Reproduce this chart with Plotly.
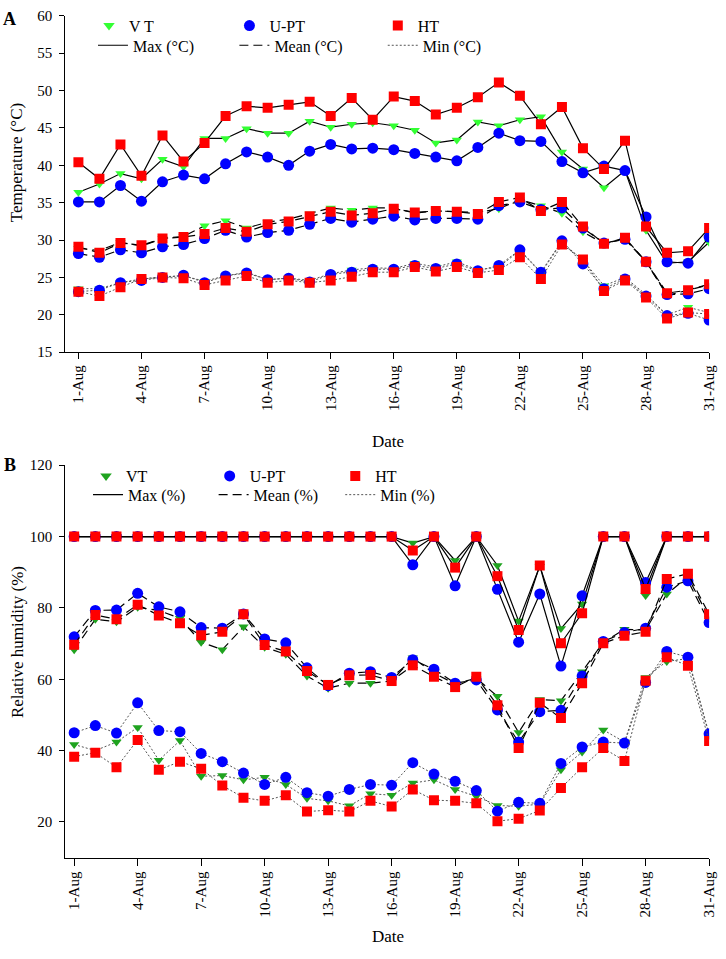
import plotly.graph_objects as go

days = list(range(1, 32))
tick_days = list(range(1, 32, 3))
tick_text = [f"{d}-Aug" for d in tick_days]

# Temperature (°C)
vt_tmax = [36.4,37.5,38.9,38.2,40.8,39.8,43.6,43.6,44.9,44.3,44.3,45.9,45.1,45.5,45.7,45.3,44.7,43.0,43.4,45.8,45.3,46.1,46.5,41.8,39.5,37.0,39.3,31.3,26.9,27.1,29.7]
upt_tmax = [35.1,35.1,37.3,35.2,37.8,38.7,38.2,40.2,41.8,41.1,40.0,41.9,42.8,42.2,42.3,42.1,41.6,41.1,40.6,42.4,44.3,43.3,43.2,40.5,39.0,39.9,39.3,33.1,27.1,26.9,30.4]
ht_tmax = [40.4,38.2,42.8,38.6,44.0,40.5,43.0,46.6,47.9,47.7,48.1,48.5,46.6,49.0,46.1,49.2,48.6,46.8,47.7,49.1,51.1,49.3,45.5,47.8,42.3,39.5,43.3,31.8,28.3,28.5,31.6]
vt_tmean = [28.9,28.6,29.7,29.2,30.2,30.5,31.9,32.6,31.6,32.4,32.8,33.5,34.3,34.0,34.3,34.3,33.6,33.9,33.8,33.7,34.2,35.4,34.6,33.6,31.1,29.5,30.2,27.1,22.6,23.3,24.0]
upt_tmean = [28.2,27.7,28.7,28.3,29.1,29.4,30.2,31.3,30.4,31.0,31.3,32.1,32.9,32.4,32.8,33.2,32.7,32.9,32.9,32.8,34.6,35.1,34.1,34.3,31.6,29.6,30.1,27.1,22.7,22.8,23.5]
ht_tmean = [29.1,28.3,29.6,29.3,30.2,30.4,30.8,31.6,31.1,32.1,32.5,33.2,33.8,33.3,33.6,34.2,33.7,33.9,33.8,33.5,35.1,35.7,33.9,35.1,31.8,29.5,30.3,27.1,22.9,23.3,24.1]
vt_tmin = [23.5,23.5,24.3,24.8,25.1,25.2,24.5,25.2,25.7,24.7,24.9,24.6,25.5,26.0,26.3,26.2,26.9,26.4,27.1,26.0,26.4,28.6,25.6,29.7,27.3,23.9,25.0,22.7,20.0,21.0,20.3]
upt_tmin = [23.1,23.3,24.3,24.6,25.0,25.3,24.3,25.2,25.6,24.7,24.9,24.4,25.4,25.7,26.1,26.1,26.6,26.2,26.8,25.9,26.6,28.7,25.7,29.9,26.8,23.5,24.8,22.5,19.9,20.2,19.3]
ht_tmin = [23.1,22.5,23.7,24.8,25.0,24.9,24.0,24.6,25.2,24.3,24.6,24.3,24.6,25.1,25.7,25.7,26.4,25.8,26.4,25.6,26.0,27.7,24.8,29.4,27.4,23.2,24.6,22.3,19.5,20.3,20.1]

# Relative humidity (%)
vt_hmax = [100]*16 + [98.2,100,93.3,100,91.9,76.3,91.7,74.2,81.1,100,100,83.5,100,100,100]
upt_hmax = [100]*16 + [92.1,100,86.2,100,85.2,70.4,83.9,63.7,83.4,100,100,87.1,100,100,100]
ht_hmax = [100]*16 + [96.1,100,91.3,100,88.9,73.8,91.9,70.1,78.5,100,100,85.3,100,100,100]
vt_hmean = [68.3,76.8,76.1,80.2,79.3,77.1,70.4,68.3,74.7,69.0,67.0,60.9,57.5,58.9,58.9,59.5,66.0,61.7,58.7,60.3,55.2,45.1,54.3,54.0,62.1,70.4,74.0,73.8,83.9,88.7,77.2]
upt_hmean = [71.9,79.3,79.4,84.1,80.3,78.9,74.5,74.3,78.3,71.3,70.2,63.2,58.2,61.7,62.1,60.5,65.5,62.8,58.9,59.8,51.4,42.4,50.9,51.3,60.9,70.6,73.1,74.3,85.8,87.6,75.9]
ht_hmean = [69.7,78.0,76.8,80.9,77.9,75.7,72.3,73.3,78.2,69.6,67.8,62.3,58.4,61.1,61.2,59.5,63.9,60.7,57.8,60.7,52.7,40.7,53.4,49.1,58.9,70.1,72.2,73.3,88.1,89.6,78.2]
vt_hmin = [41.7,40.0,42.4,46.5,37.3,42.8,32.8,33.0,31.8,32.5,30.5,26.6,25.9,24.5,27.9,27.5,30.9,31.8,29.1,27.2,24.6,24.4,25.0,34.6,39.6,45.8,42.4,60.5,65.0,65.8,44.2]
upt_hmin = [45.0,47.0,44.9,53.4,45.6,45.3,39.2,36.9,33.7,30.5,32.5,28.2,27.2,29.1,30.5,30.3,36.6,33.4,31.4,28.8,23.0,25.5,25.2,36.4,41.0,42.4,42.1,59.1,67.8,66.2,44.7]
ht_hmin = [38.3,39.4,35.3,43.0,34.6,36.9,34.9,30.2,26.8,25.9,27.5,22.9,23.3,22.9,25.9,24.3,29.1,26.1,25.9,25.2,20.2,20.9,23.2,29.5,35.3,40.7,37.1,59.6,66.2,63.8,42.7]

FONT = "Liberation Serif"
RED = "#ff0000"
BLUE = "#0000ff"
GREEN_A = "#33ff33"
GREEN_B = "#1fa31f"

MEAN_DASH = "9px,5px"
MIN_DASH = "2px,2px"

W, H = 726, 959
def px(x):
    return x / W
def py(y):
    return 1 - y / H

fig = go.Figure()

def add_group(xa, ya, series, dash, width, lcolor, green):
    styles = [
        (green, "triangle-down", 9),
        (BLUE, "circle", 11),
        (RED, "square", 10),
    ]
    for ys, (col, sym, sz) in zip(series, styles):
        fig.add_trace(go.Scatter(
            x=days, y=ys, xaxis=xa, yaxis=ya, mode="lines+markers",
            line=dict(color=lcolor, width=width, dash=dash),
            marker=dict(color=col, symbol=sym, size=sz, line=dict(width=0)),
            showlegend=False, hoverinfo="skip"))

# Panel A
add_group("x", "y", [vt_tmax, upt_tmax, ht_tmax], "solid", 1.2, "black", GREEN_A)
add_group("x", "y", [vt_tmean, upt_tmean, ht_tmean], MEAN_DASH, 1.2, "black", GREEN_A)
add_group("x", "y", [vt_tmin, upt_tmin, ht_tmin], MIN_DASH, 1.0, "#555555", GREEN_A)
# Panel B
add_group("x2", "y2", [vt_hmax, upt_hmax, ht_hmax], "solid", 1.2, "black", GREEN_B)
add_group("x2", "y2", [vt_hmean, upt_hmean, ht_hmean], MEAN_DASH, 1.2, "black", GREEN_B)
add_group("x2", "y2", [vt_hmin, upt_hmin, ht_hmin], MIN_DASH, 1.0, "#555555", GREEN_B)

# Legend entries: one legend box per entry, positioned by text start (px) and row centre (px)
legend_layout = {}
legend_count = [0]

def new_legend(text_x, row_y):
    legend_count[0] += 1
    n = legend_count[0]
    key = "legend" if n == 1 else f"legend{n}"
    legend_layout[key] = dict(
        x=px(text_x - 40), y=py(row_y), xanchor="left", yanchor="middle",
        orientation="h", bgcolor="rgba(0,0,0,0)", borderwidth=0,
        font=dict(family=FONT, size=16, color="black"), itemwidth=30)
    return key

def marker_entry(name, col, sym, sz, text_x, row_y):
    fig.add_trace(go.Scatter(x=[None], y=[None], mode="markers", name=name,
                             marker=dict(color=col, symbol=sym, size=sz, line=dict(width=0)),
                             legend=new_legend(text_x, row_y), showlegend=True))

def line_entry(name, dash, text_x, row_y, col="black", width=1.2):
    fig.add_trace(go.Scatter(x=[None], y=[None], mode="lines", name=name,
                             line=dict(color=col, dash=dash, width=width),
                             legend=new_legend(text_x, row_y), showlegend=True))

marker_entry("V T", GREEN_A, "triangle-down", 10, 130, 18)
marker_entry("U-PT", BLUE, "circle", 11, 272, 18)
marker_entry("HT", RED, "square", 10, 422, 18)
line_entry("Max (°C)", "solid", 134, 38)
line_entry("Mean (°C)", MEAN_DASH, 277, 38)
line_entry("Min (°C)", MIN_DASH, 427, 38, "#555555", 1.0)

marker_entry("VT", GREEN_B, "triangle-down", 10, 127, 476)
marker_entry("U-PT", BLUE, "circle", 11, 252, 476)
marker_entry("HT", RED, "square", 10, 379, 476)
line_entry("Max (%)", "solid", 129, 495)
line_entry("Mean (%)", MEAN_DASH, 256, 495)
line_entry("Min (%)", MIN_DASH, 384, 495, "#555555", 1.0)

axis_common = dict(showline=True, linecolor="black", linewidth=1, ticks="outside",
                   tickcolor="black", tickwidth=1, showgrid=False, zeroline=False,
                   tickfont=dict(family=FONT, size=15, color="black"))

xd = [px(66), px(717)]
fig.update_layout(
    width=W, height=H,
    margin=dict(l=0, r=0, t=0, b=0),
    paper_bgcolor="white", plot_bgcolor="white",
    font=dict(family=FONT, color="black"),
    xaxis=dict(domain=xd, range=[0.375, 31], tickvals=tick_days, ticktext=tick_text,
               tickangle=-90, ticklen=6, anchor="y", **axis_common),
    yaxis=dict(domain=[py(350), py(8)], range=[15, 60], tickvals=list(range(15, 61, 5)),
               ticklen=5, ticklabelstandoff=4, anchor="x", **axis_common),
    xaxis2=dict(domain=xd, range=[0.58, 31], tickvals=tick_days, ticktext=tick_text,
                tickangle=-90, ticklen=7, anchor="y2", **axis_common),
    yaxis2=dict(domain=[py(864), py(465)], range=[10, 120], tickvals=list(range(20, 121, 20)),
                ticklen=5, ticklabelstandoff=4, anchor="x2", **axis_common),
    showlegend=True,
    **legend_layout,
)

def label(text, x, y, size=17, angle=0):
    fig.add_annotation(text=text, x=px(x), y=py(y), xref="paper", yref="paper",
                       xanchor="center", yanchor="middle", textangle=angle,
                       showarrow=False, font=dict(family=FONT, size=size, color="black"))

label("<b>A</b>", 10, 11, 18)
label("<b>B</b>", 10, 465, 18)
label("Temperature (°C)", 17, 157, 17, -90)
label("Relative humidity (%)", 17, 645, 17, -90)
label("Date", 392, 441)
label("Date", 392, 944)

fig.write_html("out.html")
